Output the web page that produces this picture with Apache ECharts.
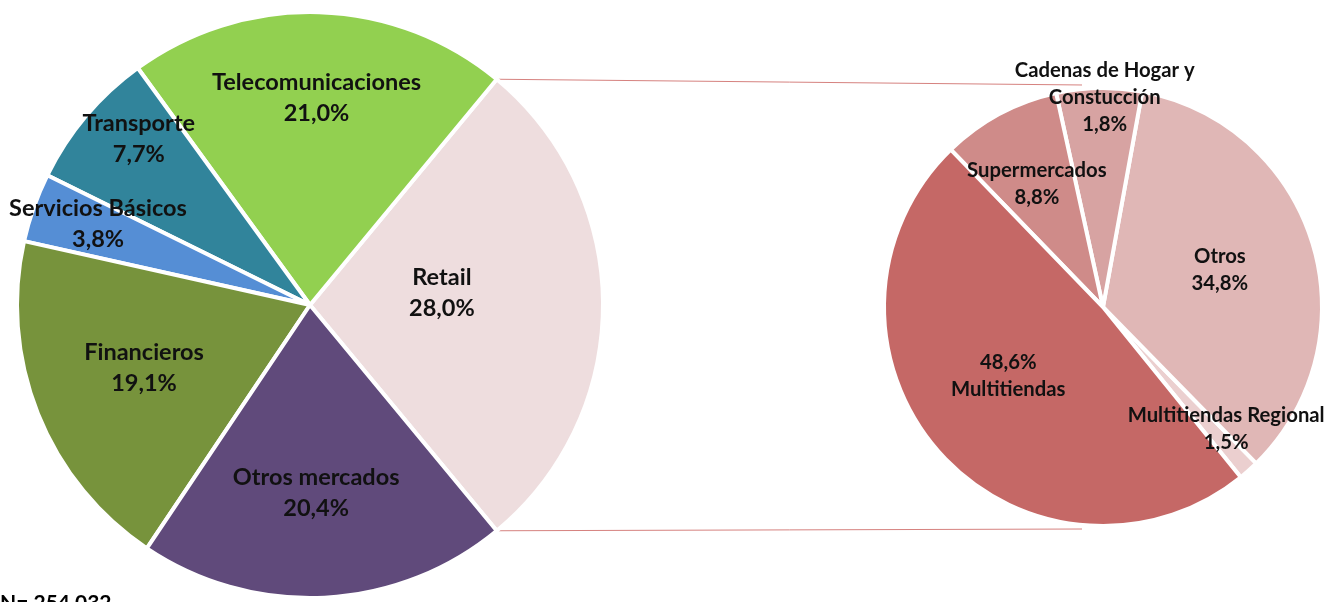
<!DOCTYPE html>
<html>
<head>
<meta charset="utf-8">
<script src="https://cdn.jsdelivr.net/npm/echarts@6/dist/echarts.min.js"></script>
<style>
html,body{margin:0;padding:0;background:#fff;}
#chart{width:1328px;height:602px;}
</style>
</head>
<body>
<div id="chart"></div>
<script>
// ---- Data ----
const mainCategories = ['Retail', 'Telecomunicaciones', 'Transporte', 'Servicios Básicos', 'Financieros', 'Otros mercados'];
const mainValues = [28.0, 21.0, 7.7, 3.8, 19.1, 20.4];

const retailCategories = ['Multitiendas Regional', 'Otros', 'Cadenas de Hogar y\nConstucción', 'Supermercados', 'Multitiendas'];
// slice sizes as drawn in the reference
const retailValues = [1.5, 34.8, 6.3, 8.8, 48.6];
// percentages as printed in the reference
const retailLabels = ['1,5%', '34,8%', '1,8%', '8,8%', '48,6%'];

const noteText = 'N= 254.032';

// ---- Styling / layout ----
const mainColors = ['#EEDDDE', '#92D050', '#31849B', '#558ED5', '#77933C', '#604A7B'];
const retailColors = ['#EBCFCF', '#E0B7B6', '#D7A3A2', '#CF8B89', '#C56866'];

const MAIN = {cx: 310, cy: 305, r: 291, start: 309.6};
const SUB = {cx: 1103, cy: 307, r: 217, start: 309};

// label placement: [fraction of radius, angle offset in degrees]
const mainLabelPolar = [[0.455, 5.2], [0.713, 0], [0.82, -4], [0.78, -1.5], [0.61, -1], [0.645, -1]];
const subLabelPolar = [[0.80, 3.5], [0.565, 0.5], [0.965, -1.5], [0.645, 0], [0.54, -5.5]];

const FONT = 'Lato, "Open Sans", sans-serif';

function midAngles(values, start) {
  const total = values.reduce((a, b) => a + b, 0);
  let cum = 0;
  return values.map(v => {
    const a = start + (cum + v / 2) / total * 360;
    cum += v;
    return a;
  });
}
function boundaryAngles(values, start) {
  const total = values.reduce((a, b) => a + b, 0);
  let cum = 0;
  const res = [start];
  values.forEach(v => { cum += v; res.push(start + cum / total * 360); });
  return res;
}
function polar(c, radius, deg) {
  const rad = deg * Math.PI / 180;
  return [c.cx + radius * Math.cos(rad), c.cy - radius * Math.sin(rad)];
}

const mainMid = midAngles(mainValues, MAIN.start);
const subMid = midAngles(retailValues, SUB.start);

function fmt(v) { return v.toFixed(1).replace('.', ',') + '%'; }

const chart = echarts.init(document.getElementById('chart'), null, {renderer: 'canvas'});

// connector lines from the Retail slice edges to the secondary pie
const retailB = boundaryAngles(mainValues, MAIN.start); // Retail spans retailB[0]..retailB[1]
const pTopL = polar(MAIN, MAIN.r + 2, retailB[1]);
const pBotL = polar(MAIN, MAIN.r + 2, retailB[0]);
const pTopR = polar(SUB, SUB.r + 6, 95.4);
const pBotR = polar(SUB, SUB.r + 6, 264.6);

const option = {
  animation: false,
  backgroundColor: '#ffffff',
  graphic: [
    {type: 'line', shape: {x1: pTopL[0], y1: pTopL[1], x2: pTopR[0], y2: pTopR[1]}, style: {stroke: '#D6827F', lineWidth: 1}, z: -1},
    {type: 'line', shape: {x1: pBotL[0], y1: pBotL[1], x2: pBotR[0], y2: pBotR[1]}, style: {stroke: '#D6827F', lineWidth: 1}, z: -1},
    {type: 'text', left: 0, top: 593, style: {text: noteText, font: 'bold 21px ' + FONT, fill: '#000'}}
  ],
  series: [
    {
      type: 'pie',
      center: [MAIN.cx, MAIN.cy],
      radius: [0, MAIN.r + 2],
      startAngle: MAIN.start,
      clockwise: false,
      avoidLabelOverlap: false,
      itemStyle: {borderColor: '#fff', borderWidth: 4},
      label: {
        show: true, position: 'inside', color: '#111',
        fontFamily: FONT, fontWeight: 'bold', fontSize: 23.5, lineHeight: 31,
        formatter: p => p.name + '\n' + fmt(p.value)
      },
      labelLine: {show: false},
      labelLayout: p => {
        const lp = mainLabelPolar[p.dataIndex];
        const pt = polar(MAIN, lp[0] * MAIN.r, mainMid[p.dataIndex] + lp[1]);
        return {x: pt[0], y: pt[1], align: 'center', verticalAlign: 'middle'};
      },
      emphasis: {disabled: true},
      data: mainCategories.map((c, i) => ({name: c, value: mainValues[i], itemStyle: {color: mainColors[i]}}))
    },
    {
      type: 'pie',
      center: [SUB.cx, SUB.cy],
      radius: [0, SUB.r + 2],
      startAngle: SUB.start,
      clockwise: false,
      avoidLabelOverlap: false,
      itemStyle: {borderColor: '#fff', borderWidth: 4},
      label: {
        show: true, position: 'inside', color: '#111',
        fontFamily: FONT, fontWeight: 'bold', fontSize: 20.3, lineHeight: 27,
        formatter: p => p.name === 'Multitiendas'
          ? retailLabels[p.dataIndex] + '\n' + p.name
          : p.name + '\n' + retailLabels[p.dataIndex]
      },
      labelLine: {show: false},
      labelLayout: p => {
        const lp = subLabelPolar[p.dataIndex];
        const pt = polar(SUB, lp[0] * SUB.r, subMid[p.dataIndex] + lp[1]);
        return {x: pt[0], y: pt[1], align: 'center', verticalAlign: 'middle'};
      },
      emphasis: {disabled: true},
      data: retailCategories.map((c, i) => ({name: c, value: retailValues[i], itemStyle: {color: retailColors[i]}}))
    }
  ]
};
chart.setOption(option);
</script>
</body>
</html>
